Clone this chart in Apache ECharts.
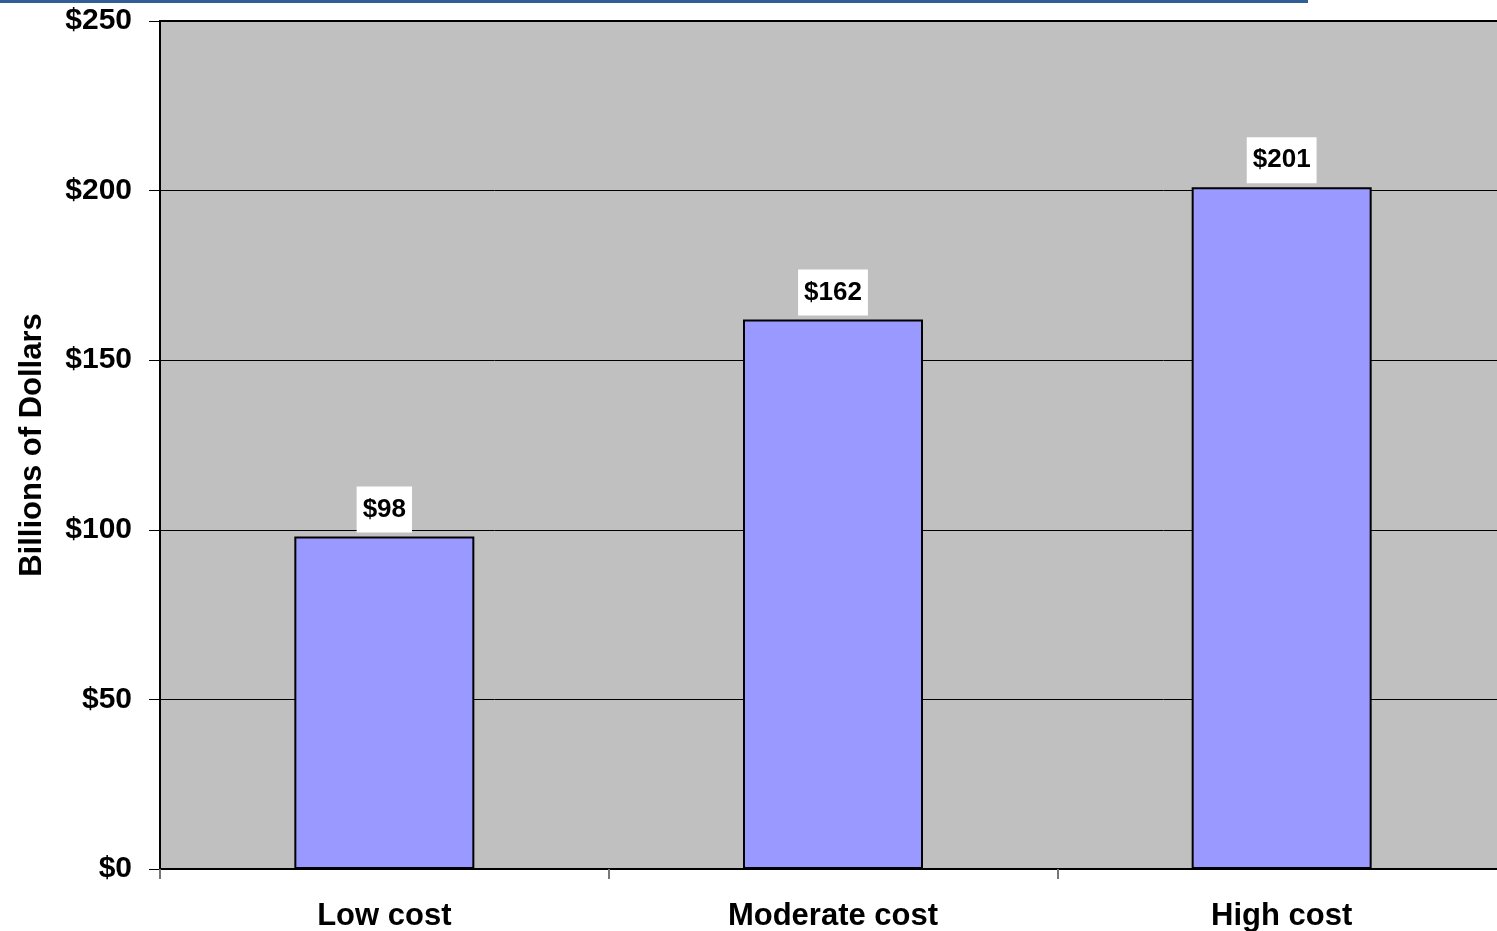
<!DOCTYPE html>
<html>
<head>
<meta charset="utf-8">
<title>Cost scenarios</title>
<script src="https://cdn.jsdelivr.net/npm/echarts@6/dist/echarts.min.js"></script>
<style>
  html, body { margin: 0; padding: 0; background: #fff; }
  #chart { width: 1497px; height: 931px; }
</style>
</head>
<body>
<div id="chart"></div>
<script>
// Scenario categories and their totals (billions of dollars)
const categories = ['Low cost', 'Moderate cost', 'High cost'];
const totals = [98, 162, 201];
const yTicks = [0, 50, 100, 150, 200, 250];

const FONT = '"Liberation Sans", Arial, sans-serif';

const chart = echarts.init(document.getElementById('chart'));
chart.setOption({
  animation: false,
  backgroundColor: '#ffffff',
  textStyle: { fontFamily: FONT },
  graphic: [
    {
      type: 'rect',
      left: 0, top: 0,
      shape: { width: 1308, height: 3 },
      style: { fill: '#2F5F96' }
    }
  ],
  grid: {
    left: 160, top: 21, width: 1346, bottom: 62,
    containLabel: false,
    outerBoundsMode: 'none',
    show: true,
    backgroundColor: '#C0C0C0',
    borderColor: '#000000',
    borderWidth: 2
  },
  xAxis: {
    type: 'category',
    data: categories,
    boundaryGap: true,
    axisLine: { lineStyle: { color: '#000000', width: 2 } },
    axisTick: { show: true, inside: false, length: 10, lineStyle: { color: '#777777', width: 2 } },
    axisLabel: {
      margin: 32,
      color: '#000000',
      fontFamily: FONT,
      fontWeight: 'bold',
      fontSize: 31
    }
  },
  yAxis: {
    type: 'value',
    min: yTicks[0],
    max: yTicks[yTicks.length - 1],
    interval: 50,
    name: 'Billions of Dollars',
    nameLocation: 'middle',
    nameRotate: 90,
    nameGap: 112,
    nameTextStyle: {
      color: '#000000',
      fontFamily: FONT,
      fontWeight: 'bold',
      fontSize: 31
    },
    axisLine: { show: true, lineStyle: { color: '#000000', width: 2 } },
    axisTick: { show: true, inside: false, length: 11, lineStyle: { color: '#000000', width: 1 } },
    splitLine: { show: true, lineStyle: { color: '#000000', width: 1 } },
    axisLabel: {
      margin: 28,
      color: '#000000',
      fontFamily: FONT,
      fontWeight: 'bold',
      fontSize: 30,
      formatter: v => '$' + v
    }
  },
  series: [
    {
      type: 'bar',
      data: totals,
      barWidth: 180,
      itemStyle: {
        color: '#9999FF',
        borderColor: '#000000',
        borderWidth: 2
      },
      label: {
        show: true,
        position: 'top',
        distance: 4,
        formatter: p => '$' + p.value,
        color: '#000000',
        fontFamily: FONT,
        fontWeight: 'bold',
        fontSize: 26,
        backgroundColor: '#ffffff',
        padding: [10, 6, 10, 6]
      }
    }
  ]
});
</script>
</body>
</html>
